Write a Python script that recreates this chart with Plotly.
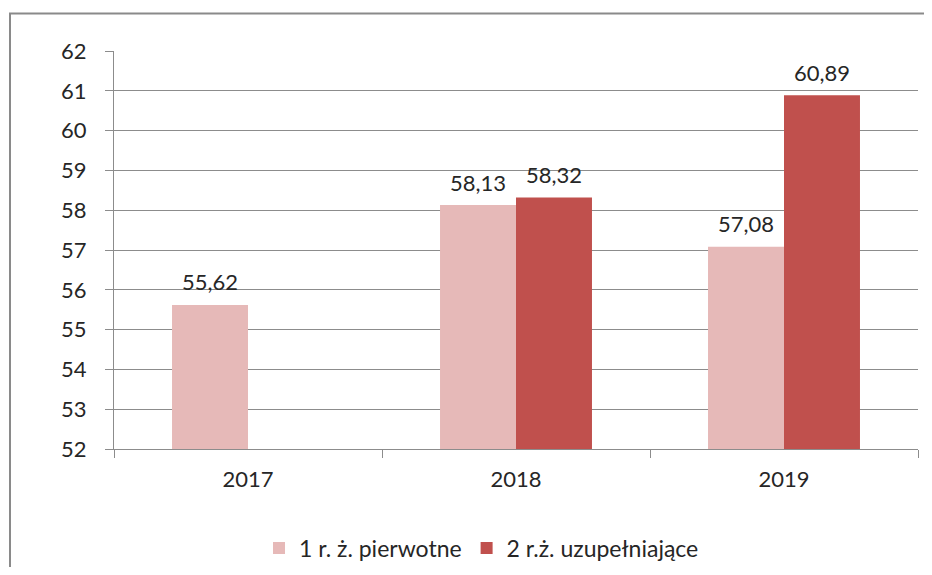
import plotly.graph_objects as go

categories = ["2017", "2018", "2019"]
series1_name = "1 r. ż. pierwotne"
series1_values = [55.62, 58.13, 57.08]
series2_name = "2 r.ż. uzupełniające"
series2_values = [None, 58.32, 60.89]
y_ticks = list(range(52, 63))

FONT = "Lato"
FS = 22
TXT = "#262626"
GRID = "#8c8c8c"

# page body has an 8px margin; figure sized to fit inside the window
W, H, OFF = 916, 559, 8
PL, PR, PT, PB = 114, 918, 51, 449  # target plot-area edges in window pixels

fig = go.Figure()
fig.add_trace(go.Bar(x=categories, y=series1_values, name=series1_name,
                     marker=dict(color="#E6B9B8", line=dict(width=0))))
fig.add_trace(go.Bar(x=categories, y=series2_values, name=series2_name,
                     marker=dict(color="#C0504D", line=dict(width=0))))

def fmt(v):
    return f"{v:.2f}".replace(".", ",")

for vals, shift in ((series1_values, -38), (series2_values, 38)):
    for i, v in enumerate(vals):
        if v is None:
            continue
        fig.add_annotation(x=i, y=v, xref="x", yref="y", text=fmt(v), showarrow=False,
                           xshift=shift, yshift=23, yanchor="middle",
                           font=dict(family=FONT, size=FS, color=TXT))

pw, ph = PR - PL, PB - PT
def px(x):
    return (x - PL) / pw
def py(y):
    return (PB - y) / ph

# outer chart frame (cut off at right and bottom)
fig.add_shape(type="path", xref="paper", yref="paper",
              path=f"M {px(960)} {py(13.5)} L {px(10)} {py(13.5)} L {px(10)} {py(600)}",
              line=dict(color="#8a8a8a", width=2))

fig.update_layout(
    width=W, height=H,
    margin=dict(l=PL - OFF, r=OFF + W - PR, t=PT - OFF, b=OFF + H - PB, pad=0,
                autoexpand=False),
    paper_bgcolor="white", plot_bgcolor="white",
    barmode="group", bargap=0.433, bargroupgap=0,
    font=dict(family=FONT, size=FS, color=TXT),
    showlegend=True,
    legend=dict(orientation="h", x=px(259), xanchor="left", y=py(548), yanchor="middle",
                font=dict(family=FONT, size=23, color=TXT), itemwidth=30,
                traceorder="normal"),
    xaxis=dict(type="category", range=[-0.5, 2.5], autorange=False, showgrid=False,
               automargin=False,
               showline=True, linecolor=GRID, linewidth=1,
               ticks="outside", ticklen=8, tickcolor=GRID, tickson="boundaries",
               tickfont=dict(family=FONT, size=FS, color=TXT), ticklabelstandoff=11),
    yaxis=dict(range=[52, 62], autorange=False, tickvals=y_ticks, showgrid=True,
               automargin=False,
               gridcolor=GRID, gridwidth=1,
               showline=True, linecolor=GRID, linewidth=1, zeroline=False,
               ticks="outside", ticklen=8, tickcolor=GRID,
               tickfont=dict(family=FONT, size=FS, color=TXT), ticklabelstandoff=14),
)

fig.write_html("out.html")
